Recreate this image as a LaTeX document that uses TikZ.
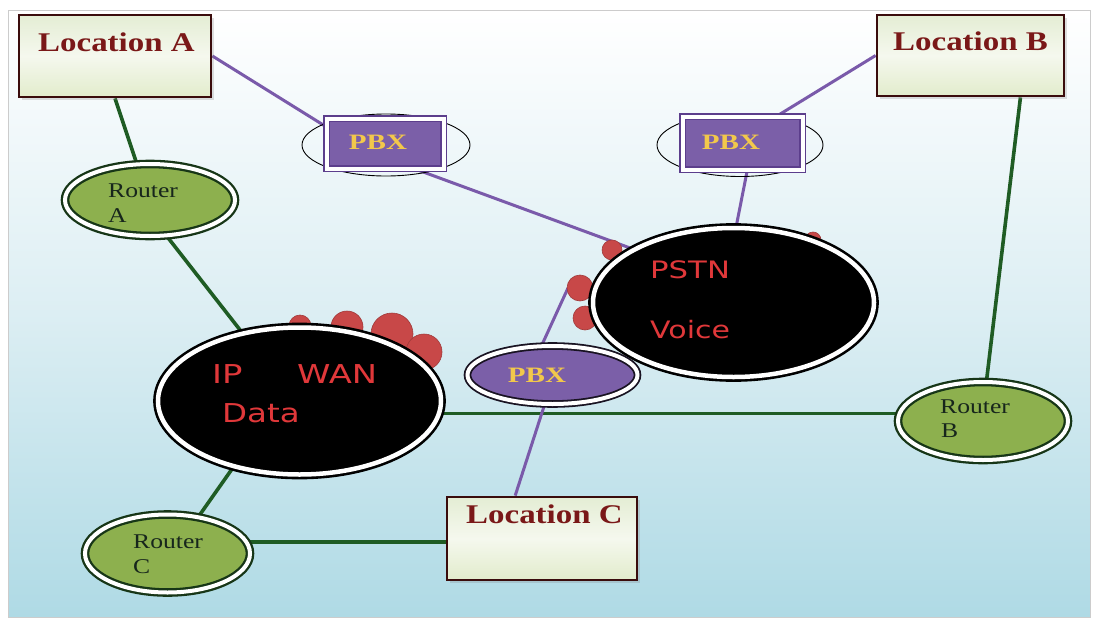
\documentclass[tikz,border=0pt]{standalone}
\usepackage{fontspec}
\setmainfont{Liberation Serif}
\newfontfamily\redfont{DejaVu Sans}
\usetikzlibrary{shapes.geometric,shadows}
\pgfdeclarelayer{bg}
\pgfdeclarelayer{lines}
\pgfsetlayers{bg,lines,main}
\definecolor{bgblue}{HTML}{AFDAE5}
\definecolor{bgmid}{HTML}{DCEEF3}
\definecolor{locborder}{HTML}{3A0C0C}
\definecolor{loctop}{HTML}{E4EDD4}
\definecolor{locmid}{HTML}{F5F8EE}
\definecolor{locbot}{HTML}{E2ECCC}
\definecolor{loctext}{HTML}{7A1818}
\definecolor{pbxfill}{HTML}{7B5FA8}
\definecolor{pbxdraw}{HTML}{5C3E8C}
\definecolor{pbxtext}{HTML}{F2C84B}
\definecolor{routerfill}{HTML}{8DB04E}
\definecolor{routerdraw}{HTML}{173617}
\definecolor{routertext}{HTML}{17261C}
\definecolor{greenline}{HTML}{1F5C24}
\definecolor{purpleline}{HTML}{7A5AAA}
\definecolor{redtext}{HTML}{E0383A}
\definecolor{blob}{HTML}{C84848}
\begin{document}
\begin{tikzpicture}[x=1pt,y=-1pt,
  locbox/.style={rectangle, draw=locborder, line width=2.8pt, top color=loctop, bottom color=locbot, middle color=locmid, inner sep=0pt,
    drop shadow={opacity=0.25, shadow xshift=3pt, shadow yshift=-3pt}},
  loctxt/.style={anchor=base west, inner sep=0pt, text=loctext, font=\fontsize{27}{27}\selectfont\bfseries},
  pbxbox/.style={rectangle, fill=pbxfill, draw=pbxdraw, line width=1.4pt, double=white, double distance=4pt, inner sep=0pt},
  pbxring/.style={ellipse, draw=black, line width=0.9pt, inner sep=0pt},
  pbxell/.style={ellipse, fill=pbxfill, draw=black!80!pbxfill, line width=1.8pt, double=white, double distance=4pt, inner sep=0pt},
  pbxtxt/.style={inner sep=0pt, text=pbxtext, font=\fontsize{22}{22}\selectfont\bfseries},
  router/.style={ellipse, fill=routerfill, draw=routerdraw, line width=2.3pt, double=white, double distance=4pt, inner sep=0pt},
  routertxt/.style={anchor=base west, inner sep=0pt, text=routertext, font=\fontsize{21}{21}\selectfont},
  cloud/.style={ellipse, fill=black, draw=black, line width=2.6pt, double=white, double distance=4.5pt, inner sep=0pt},
  redtxt/.style={anchor=base west, inner sep=0pt, text=redtext},
  blobc/.style={fill=blob, draw=blob!80!black, line width=0.6pt},
  gline/.style={draw=greenline, line width=3.6pt},
  pline/.style={draw=purpleline, line width=3pt}
]
\useasboundingbox (0,0) rectangle (1098,624);
\begin{pgfonlayer}{bg}
  \fill[white] (0,0) rectangle (1098,624);
  \path[top color=white, bottom color=bgblue, middle color=bgmid, draw=gray!40, line width=0.6pt] (8,10) rectangle (1090,617);
\end{pgfonlayer}

% Location boxes
\node[locbox, minimum width=192pt, minimum height=82pt] (locA) at (115,56) {};
\node[locbox, minimum width=187pt, minimum height=81pt] (locB) at (970.5,55.5) {};
\node[locbox, minimum width=190pt, minimum height=83pt] (locC) at (542,538.5) {};
\node[loctxt] (locAt) at (38,51) {\scalebox{1.22}[1]{Location A}};
\node[loctxt] (locBt) at (893,50) {\scalebox{1.22}[1]{Location B}};
\node[loctxt] (locCt) at (466,523) {\scalebox{1.22}[1]{Location C}};

% PBX boxes with rings
\node[pbxring, minimum width=168pt, minimum height=62pt] (pbx1r) at (386,145) {};
\node[pbxbox, minimum width=117pt, minimum height=50pt] (pbx1) at (385,143.5) {};
\node[pbxtxt] (pbx1t) at (378,142) {\scalebox{1.32}[1]{PBX}};
\node[pbxring, minimum width=166pt, minimum height=63pt] (pbx2r) at (740,145) {};
\node[pbxbox, minimum width=120pt, minimum height=53pt] (pbx2) at (742.5,143) {};
\node[pbxtxt] (pbx2t) at (731,142) {\scalebox{1.32}[1]{PBX}};

% Routers
\node[router, minimum width=170pt, minimum height=72pt] (rA) at (150,200) {};
\node[routertxt] (rAt1) at (108,197) {\scalebox{1.22}[1]{Router}};
\node[routertxt] (rAt2) at (108,222) {\scalebox{1.22}[1]{A}};
\node[router, minimum width=170pt, minimum height=78pt] (rB) at (983,421) {};
\node[routertxt] (rBt1) at (940,413) {\scalebox{1.22}[1]{Router}};
\node[routertxt] (rBt2) at (941,437) {\scalebox{1.22}[1]{B}};
\node[router, minimum width=165pt, minimum height=78pt] (rC) at (167.5,553.5) {};
\node[routertxt] (rCt1) at (133,548) {\scalebox{1.22}[1]{Router}};
\node[routertxt] (rCt2) at (133,573) {\scalebox{1.22}[1]{C}};

% Cloud blobs
\fill[blobc] (300,326) circle (11);
\fill[blobc] (347,327) circle (16);
\fill[blobc] (392,334) circle (21);
\fill[blobc] (424,352) circle (18);
\fill[blobc] (612,250) circle (10);
\fill[blobc] (580,288) circle (13);
\fill[blobc] (585,318) circle (12);
\fill[blobc] (813,240) circle (8);
\coordinate (pstnblob) at (568,288);

% Clouds
\node[cloud, minimum width=283pt, minimum height=147pt] (wan) at (299.5,401) {};
\node[redtxt, font=\redfont\fontsize{26}{26}\selectfont] (wanIP) at (212,383) {\scalebox{1.3}[1]{IP}};
\node[redtxt, font=\redfont\fontsize{26}{26}\selectfont] (wanW) at (297,383) {\scalebox{1.3}[1]{WAN}};
\node[redtxt, font=\redfont\fontsize{26}{26}\selectfont] (wanD) at (222,422) {\scalebox{1.25}[1]{Data}};
\node[cloud, minimum width=281pt, minimum height=149pt] (pstn) at (733.5,302.5) {};
\node[redtxt, font=\redfont\fontsize{24}{24}\selectfont] (pstnP) at (650,278) {\scalebox{1.28}[1]{PSTN}};
\node[redtxt, font=\redfont\fontsize{24}{24}\selectfont] (pstnV) at (650,338) {\scalebox{1.25}[1]{Voice}};

% PBX 3
\node[pbxell, minimum width=170pt, minimum height=58pt] (pbx3) at (552.5,375) {};
\node[pbxtxt] (pbx3t) at (537,375) {\scalebox{1.32}[1]{PBX}};

% Connectors
\begin{pgfonlayer}{lines}
  \draw[gline] (locA.south) -- (rA.110);
  \draw[gline] (rA.-65) -- (wan.130);
  \draw[gline] (wan.-5) -- (wan.-5 -| rB.west);
  \draw[gline] (locB.-40) -- (rB.85);
  \draw[gline] (wan.-135) -- (rC.50);
  \draw[gline] (rC.8) -- (rC.8 -| locC.west);
  \draw[pline] (locA.east) -- (pbx1.164);
  \draw[pline] (pbx1.-40) -- (pstn.152);
  \draw[pline] (locB.west) -- (pbx2.38);
  \draw[pline] (pbx2.-80) -- (pstn.88);
  \draw[pline] (pbx3.110) -- (pstnblob);
  \draw[pline] (pbx3.-105) -- (locC.122);
\end{pgfonlayer}
\end{tikzpicture}
\end{document}
